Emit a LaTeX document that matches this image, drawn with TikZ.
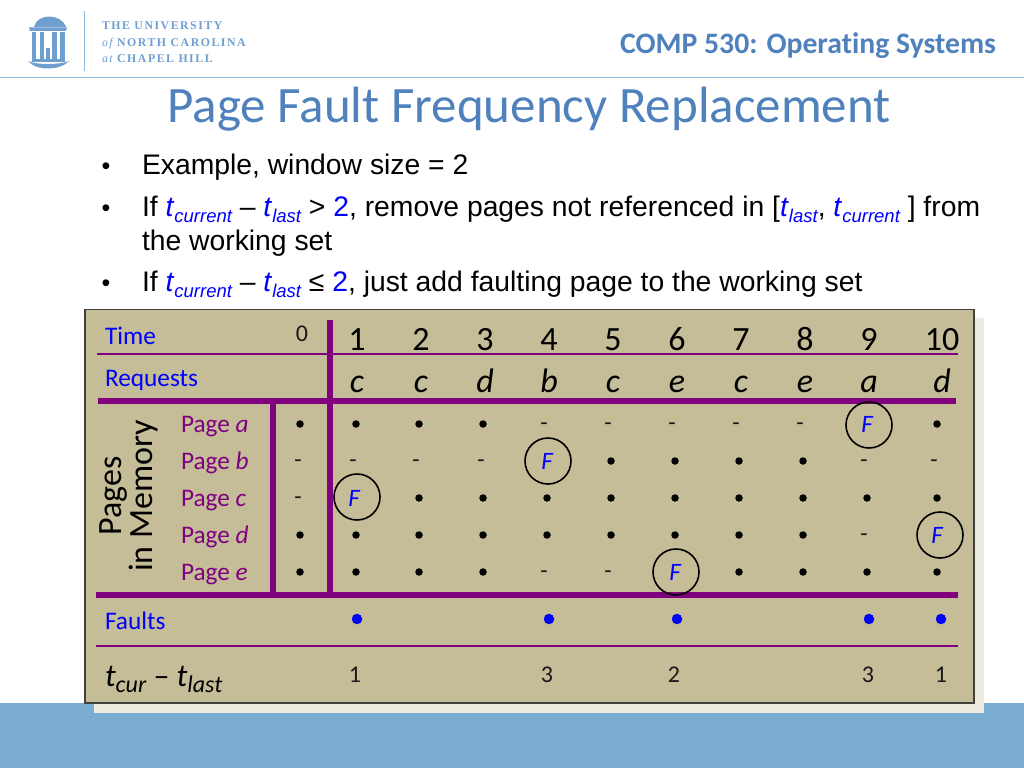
\documentclass[tikz,border=0pt]{standalone}
\usepackage{fontspec}
\setmainfont{Liberation Sans}
\newfontfamily\cali[Ligatures=NoCommon]{Carlito}
\newfontfamily\logofont[LetterSpace=13]{Liberation Serif}
\definecolor{headblue}{HTML}{4F81BD}
\definecolor{bandblue}{HTML}{7BACD2}
\definecolor{rulblue}{HTML}{8DB9DB}
\definecolor{logoblue}{HTML}{6E9FCF}
\definecolor{paneltan}{HTML}{C4BD97}
\definecolor{panelshade}{HTML}{EEEBE1}
\definecolor{purp}{HTML}{800080}
\definecolor{bl}{HTML}{0000FF}
\newcommand{\lowsub}[1]{\raisebox{-0.22em}{\fontsize{18.5}{18.5}\selectfont\itshape #1}}
\newcommand{\tcur}{{\color{bl}\textit{t}\lowsub{current}}}
\newcommand{\tlast}{{\color{bl}\textit{t}\lowsub{last}}}
\tikzset{
  every node/.style={inner sep=0pt,outer sep=0pt},
  body/.style={anchor=base west,font=\fontsize{28.3}{28.3}\selectfont},
  bul/.style={anchor=base,font=\fontsize{25}{25}\selectfont},
  lab/.style={anchor=base west,font=\cali\fontsize{25.3}{25.3}\selectfont,text=bl},
  pagelab/.style={anchor=base west,font=\cali\fontsize{25.3}{25.3}\selectfont,text=purp},
  num/.style={anchor=base,font=\cali\fontsize{34}{34}\selectfont},
  req/.style={anchor=base,font=\cali\itshape\fontsize{34}{34}\selectfont},
  smallnum/.style={anchor=base,font=\cali\fontsize{24}{24}\selectfont,text=black!90},
  dotm/.style={circle,fill=black,minimum size=7.5pt},
  dashm/.style={anchor=center,font=\cali\fontsize{24}{24}\selectfont,text=black!90},
  fmark/.style={font=\cali\itshape\fontsize{25}{25}\selectfont,text=bl},
  ring/.style={circle,draw=black,line width=1.6pt,minimum size=46pt},
  fault/.style={circle,fill=bl,minimum size=10.5pt},
  thick rule/.style={purp,line width=6pt},
  thin rule/.style={purp,line width=1.4pt},
  logotxt/.style={anchor=base west,text=logoblue,font=\logofont\bfseries\fontsize{11.8}{11.8}\selectfont},
}
\begin{document}
\begin{tikzpicture}[x=1pt,y=-1pt]
\useasboundingbox (0,0) rectangle (1024,768);
\fill[white] (0,0) rectangle (1024,768);
% band and header
\fill[bandblue] (0,703) rectangle (1024,768);
\draw[rulblue,line width=1.4pt] (0,77.5) -- (1024,77.5);
\draw[rulblue,line width=1pt] (84,11) -- (84,71);
% logo
\begin{scope}[logoblue]
\fill (34,27) .. controls (37,13) and (61,13) .. (66,27) -- cycle;
\fill (29,27.5) -- (67,27.5) -- (66,31) -- (30,31) -- cycle;
\fill (32,32) rectangle (36,60);
\fill (40,32) rectangle (44,60);
\fill (52,32) rectangle (57,60);
\fill (60,32) rectangle (65,60);
\fill (46,48) rectangle (50,60);
\fill (32,59) rectangle (65,62);
\fill (28,61) .. controls (36,71) and (60,71) .. (69,61) .. controls (60,65) and (36,65) .. (28,61) -- cycle;
\end{scope}
\node[logotxt] (uni1) at (102,29.5) {THE UNIVERSITY};
\node[logotxt] (uni2) at (102,46) {{\itshape\mdseries of} NORTH CAROLINA};
\node[logotxt] (uni3) at (102,62.5) {{\itshape\mdseries at} CHAPEL HILL};
% titles
\node[anchor=base east,text=headblue,font=\cali\bfseries\fontsize{29.7}{29.7}\selectfont] (course) at (996,53) {COMP 530: Operating Systems};
\node[anchor=base,text=headblue,font=\cali\fontsize{51}{51}\selectfont] (title) at (529,122) {Page Fault Frequency Replacement};
% bullets
\node[bul] (b1) at (106,174) {•};
\node[body] (l1) at (142,174) {Example, window size = 2};
\node[bul] (b2) at (106,216) {•};
\node[body] (l2) at (142,216) {If \tcur{} – \tlast{} > {\color{bl}2}, remove pages not referenced in [\tlast, \tcur{} ] from};
\node[body] (l2b) at (142,250) {the working set};
\node[bul] (b3) at (106,291) {•};
\node[body] (l3) at (142,291) {If \tcur{} – \tlast{} ≤ {\color{bl}2}, just add faulting page to the working set};
% table panel
\fill[panelshade] (94,318) rectangle (984,713);
\fill[paneltan,draw=black!75,line width=1.5pt] (85,309.5) rectangle (974,703);
% rules
\draw[thin rule] (97,354) -- (958,354);
\draw[thick rule] (98,401) -- (956,401);
\draw[thick rule] (96,595) -- (958,595);
\draw[thin rule] (96,646) -- (958,646);
\draw[thick rule] (330,320) -- (330,595);
\draw[thick rule] (273,401) -- (273,595);
% row labels
\node[lab] (time) at (105,344) {Time};
\node[lab] (requests) at (105,386) {Requests};
\node[lab] (faults) at (105,629) {Faults};
\node[anchor=base west,font=\cali\itshape\fontsize{32}{32}\selectfont] (tdiff) at (105,686) {t\raisebox{-0.2em}{\fontsize{24}{24}\selectfont cur} {\upshape –} t\raisebox{-0.2em}{\fontsize{24}{24}\selectfont last}};
\node[anchor=center,rotate=90,align=center,font=\cali\fontsize{34}{31}\selectfont] (mem) at (129,496) {Pages\\in Memory};
\node[pagelab] (pa) at (181,432) {Page \textit{a}};
\node[pagelab] (pb) at (181,469) {Page \textit{b}};
\node[pagelab] (pc) at (181,506) {Page \textit{c}};
\node[pagelab] (pd) at (181,543) {Page \textit{d}};
\node[pagelab] (pe) at (181,580) {Page \textit{e}};
% header numbers
\node[smallnum] (t0) at (302,341) {0};
\foreach \t/\x/\r in {1/357/c,2/421/c,3/485/d,4/549/b,5/613/c,6/677/e,7/741/c,8/805/e,9/869/a,10/942/d}{
  \node[num] (t\t) at (\x,350) {\t};
  \node[req] (r\t) at (\x,392) {\r};
}
% memory marks: dots
\foreach \x/\c/\ys in {
  300/0/{424,535,572},
  356/1/{424,535,572},
  419/2/{424,498,535,572},
  483/3/{424,498,535,572},
  547/4/{498,535},
  611/5/{461,498,535},
  675/6/{461,498,535},
  739/7/{461,498,535,572},
  803/8/{461,498,535,572},
  867/9/{498,572},
  937/10/{424,498,572}}{
  \foreach \y in \ys { \node[dotm] (d\c-\y) at (\x,\y) {}; }
}
% memory marks: dashes
\foreach \x/\c/\ys in {
  298/0/{461,498},
  353/1/{461},
  416/2/{461},
  481/3/{461},
  544/4/{424,572},
  608/5/{424,572},
  672/6/{424},
  736/7/{424},
  800/8/{424},
  864/9/{461,535},
  934/10/{461}}{
  \foreach \y in \ys { \node[dashm] (n\c-\y) at (\x,\y+3) {-}; }
}
% page faults
\foreach \n/\x/\y/\cx/\cy in {a/867/424/869/425,b/547/461/548/461,c/354/498/357/497,d/937/535/940/535,e/675/572/676/572}{
  \node[ring] (ring\n) at (\cx,\cy) {};
  \node[fmark] (f\n) at (\x,\y) {F};
}
% faults row
\foreach \x/\c in {357/1,549/4,677/6,869/9,941/10}{ \node[fault] (fd\c) at (\x,619) {}; }
% differences
\foreach \x/\v/\c in {355/1/1,547/3/4,674/2/6,868/3/9,941/1/10}{ \node[smallnum] (diff\c) at (\x,682) {\v}; }
\end{tikzpicture}
\end{document}
